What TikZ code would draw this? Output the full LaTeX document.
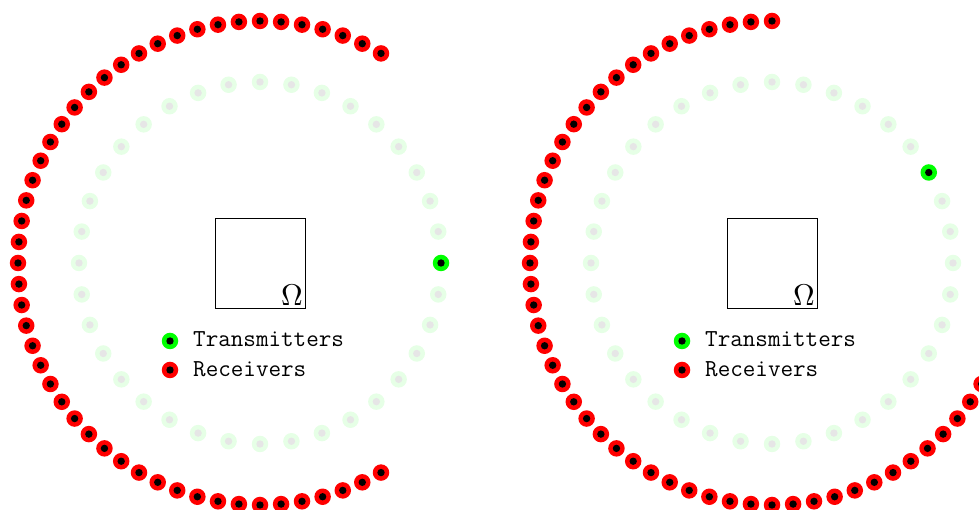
\documentclass[tikz,border=0pt]{standalone}
\definecolor{tgreen}{RGB}{0,255,0}
\definecolor{fgreen}{RGB}{230,255,230}
\definecolor{fgray}{RGB}{230,230,230}
\begin{document}
\begin{tikzpicture}[x=1pt,y=1pt,
  basedot/.style={circle, inner sep=0pt, minimum size=16.5pt},
  rdot/.style={basedot, fill=red, path picture={\fill[black] (path picture bounding box.center) circle (3.7pt);}},
  tdot/.style={basedot, fill=tgreen, path picture={\fill[black] (path picture bounding box.center) circle (3.7pt);}},
  fdot/.style={basedot, fill=fgreen, path picture={\fill[fgray] (path picture bounding box.center) circle (3.7pt);}},
  sqbox/.style={draw, line width=0.8pt, minimum size=90pt, inner sep=0pt},
  omegalabel/.style={anchor=south east, inner sep=0.7pt, scale=3.0},
  legtext/.style={anchor=base west, inner sep=0pt, font=\ttfamily\fontsize{24.4}{28}\selectfont}
]
\useasboundingbox (0,0) rectangle (979,510);
\foreach \cx/\p/\t in {260/L/0, 772/R/30}{
  \begin{scope}[shift={(\cx,247)}]
    \foreach \i in {0,...,35}{
      \pgfmathtruncatemacro\ang{10*\i}
      \ifnum\ang=\t\relax\else
        \node[fdot] (\p-f-\i) at (\ang:181) {};
      \fi
    }
    \node[tdot] (\p-t) at (\t:181) {};
    \foreach \i in {0,...,48}{
      \pgfmathsetmacro\ang{\t+60+5*\i}
      \node[rdot] (\p-r-\i) at (\ang:242) {};
    }
    \node[sqbox] (\p-sq) at (0,0) {};
    \node[omegalabel] (\p-om) at (\p-sq.south east) {$\Omega$};
    \node[tdot] (\p-lt) at (-90,-78) {};
    \node[legtext] (\p-ltt) at (-67,-84) {Transmitters};
    \node[rdot] (\p-lr) at (-90,-107) {};
    \node[legtext] (\p-lrt) at (-67,-114) {Receivers};
  \end{scope}
}
\end{tikzpicture}
\end{document}
